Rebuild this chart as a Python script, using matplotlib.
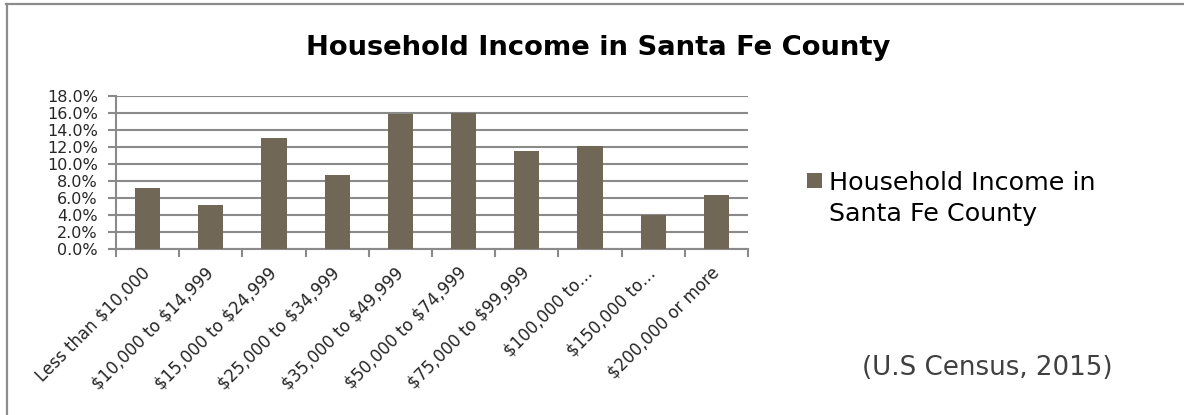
import matplotlib
matplotlib.use("Agg")
import matplotlib.pyplot as plt
from matplotlib.lines import Line2D
from matplotlib.patches import Rectangle
from matplotlib.ticker import FuncFormatter, MultipleLocator, FixedLocator
import numpy as np

categories = [
    "Less than $10,000",
    "$10,000 to $14,999",
    "$15,000 to $24,999",
    "$25,000 to $34,999",
    "$35,000 to $49,999",
    "$50,000 to $74,999",
    "$75,000 to $99,999",
    "$100,000 to\u2026",
    "$150,000 to\u2026",
    "$200,000 or more",
]
shares = [7.2, 5.2, 13.1, 8.7, 15.8, 16.0, 11.5, 12.1, 4.0, 6.4]

series_name = "Household Income in Santa Fe County"
legend_label = "Household Income in\nSanta Fe County"
source_note = "(U.S Census, 2015)"

bar_color = "#706756"
grid_color = "#8a8a8a"
text_color = "#262626"

plt.rcParams["font.family"] = ["DejaVu Sans"]
plt.rcParams["text.parse_math"] = False

fig = plt.figure(figsize=(11.84, 4.15), dpi=100)
ax = fig.add_axes([0.098, 0.3993, 0.5338, 0.3701])

x = np.arange(len(categories))
ax.bar(x, shares, width=0.4, color=bar_color, zorder=3)

ax.set_xlim(-0.5, len(categories) - 0.5)
ax.set_ylim(0, 18)
ax.yaxis.set_major_locator(MultipleLocator(2))
ax.yaxis.set_major_formatter(FuncFormatter(lambda v, p: f"{v:.1f}%"))
ax.grid(axis="y", color=grid_color, linewidth=1.5, zorder=0)
ax.set_axisbelow(True)

# tick marks at category boundaries, labels at category centres
ax.xaxis.set_major_locator(FixedLocator(np.arange(-0.5, len(categories), 1.0)))
ax.xaxis.set_major_formatter(FuncFormatter(lambda v, p: ""))
ax.xaxis.set_minor_locator(FixedLocator(x))
ax.set_xticklabels(categories, minor=True)
ax.tick_params(axis="x", which="major", length=6, width=1.5, color=grid_color, direction="out")
ax.tick_params(axis="x", which="minor", length=0, pad=15)
for lbl in ax.get_xticklabels(minor=True):
    lbl.set_rotation(45)
    lbl.set_ha("right")
    lbl.set_va("center")
    lbl.set_rotation_mode("anchor")
    lbl.set_fontsize(12)
    lbl.set_color(text_color)

ax.tick_params(axis="y", length=6, width=1.5, color=grid_color, pad=7, labelsize=11.5,
               labelcolor=text_color)

for side in ("top", "right"):
    ax.spines[side].set_visible(False)
for side in ("left", "bottom"):
    ax.spines[side].set_color(grid_color)
    ax.spines[side].set_linewidth(1.5)

fig.text(0.505, 0.885, series_name, ha="center", va="center", fontsize=19.7,
         fontweight="bold", color="#000000")

# legend: swatch beside the first line of the series name
fig.add_artist(Rectangle((0.6816, 0.547), 0.01267, 0.0361, transform=fig.transFigure,
                         facecolor=bar_color, edgecolor="none"))
fig.text(0.7002, 0.588, legend_label, ha="left", va="top", fontsize=18.3,
         linespacing=1.38, color="#000000")

fig.text(0.834, 0.113, source_note, ha="center", va="center", fontsize=18.8, color="#404040")

# chart frame (left and top edges)
fig.add_artist(Line2D([0.0059, 0.0059], [0.0, 0.991], transform=fig.transFigure,
                      color="#8c8c8c", linewidth=1.6))
fig.add_artist(Line2D([0.0052, 1.0], [0.991, 0.991], transform=fig.transFigure,
                      color="#8c8c8c", linewidth=1.6))

fig.savefig("out.png", dpi=100, facecolor="white")
